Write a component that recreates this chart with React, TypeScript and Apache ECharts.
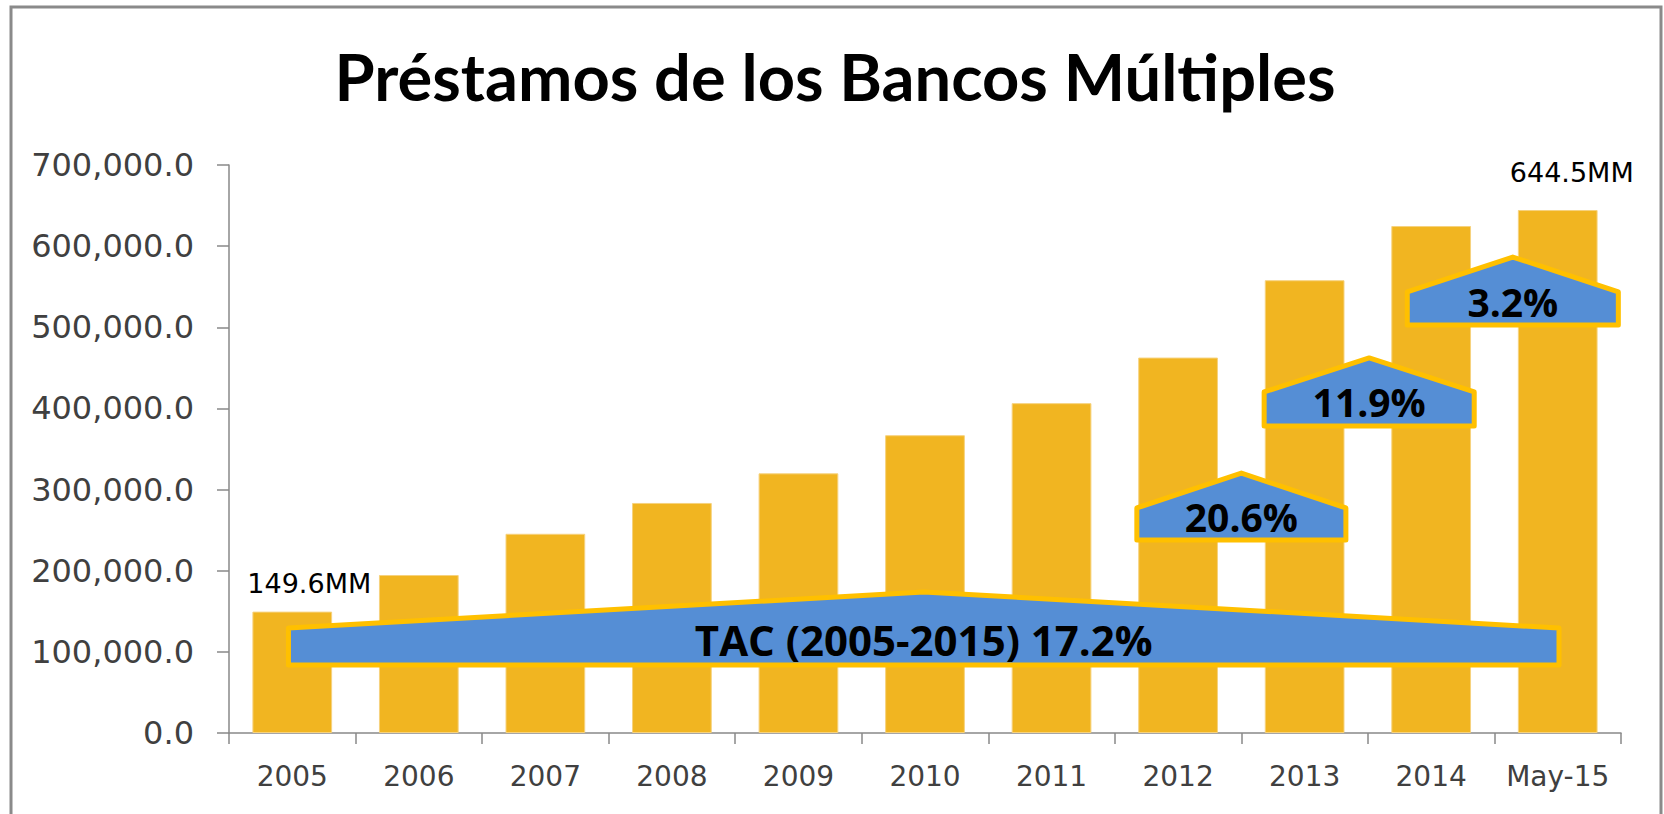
import React, { useEffect, useRef } from "react";
import * as echarts from "echarts";

const titleText = "Préstamos de los Bancos Múltiples";
const categories = ["2005", "2006", "2007", "2008", "2009", "2010", "2011", "2012", "2013", "2014", "May-15"];
const loans = [149600, 194700, 245500, 283500, 320000, 367000, 406500, 462700, 558000, 624800, 644500];
const endLabels = ["149.6MM", "", "", "", "", "", "", "", "", "", "644.5MM"];

// growth annotations (pentagon "house" shapes)
const arrowLabels = ["TAC (2005-2015) 17.2%", "20.6%", "11.9%", "3.2%"];
const arrowCenters = [4.99, 7.5, 8.51, 9.645]; // in category units from first category centre
const arrowHalfWidths = [5.02, 0.826, 0.83, 0.834]; // in category bands
const arrowBottoms = [83800, 237900, 378400, 502800];
const arrowShoulders = [129400, 277300, 420300, 543500];
const arrowApexes = [173800, 320400, 462200, 586600];
const arrowFontSizes = [42, 39, 39, 39];

export default function App() {
  const ref = useRef<HTMLDivElement>(null);
  useEffect(() => {
    if (!ref.current) return;
    const chart = echarts.init(ref.current, null, { renderer: "svg" });
    const axisColor = "#898989";
    const labelColor = "#404040";
    chart.setOption({
      animation: false,
      backgroundColor: "#ffffff",
      graphic: [
        {
          type: "rect",
          shape: { x: 11, y: 7, width: 1650, height: 830 },
          style: { fill: "none", stroke: "#8a8a8a", lineWidth: 3 },
          z: 0,
        },
        {
          type: "text",
          x: 835,
          y: 76,
          style: {
            text: titleText,
            fill: "#000000",
            fontFamily: "Lato",
            fontWeight: "bold",
            fontSize: 65,
            align: "center",
            verticalAlign: "middle",
          },
        },
      ],
      grid: { left: 229, right: 43, top: 165, bottom: 81, containLabel: false },
      xAxis: {
        type: "category",
        data: categories,
        axisLine: { lineStyle: { color: axisColor, width: 1.5 } },
        axisTick: { show: true, length: 11, lineStyle: { color: axisColor, width: 1.5 } },
        axisLabel: {
          interval: 0,
          color: labelColor,
          fontFamily: "DejaVu Sans",
          fontSize: 28,
          margin: 29,
        },
      },
      yAxis: {
        type: "value",
        min: 0,
        max: 700000,
        interval: 100000,
        splitLine: { show: false },
        axisLine: { show: true, lineStyle: { color: axisColor, width: 1.5 } },
        axisTick: { show: true, length: 12, lineStyle: { color: axisColor, width: 1.5 } },
        axisLabel: {
          color: labelColor,
          fontFamily: "DejaVu Sans",
          fontSize: 32,
          margin: 35,
          formatter: (v: number) =>
            v.toLocaleString("en-US", { minimumFractionDigits: 1, maximumFractionDigits: 1 }),
        },
      },
      series: [
        {
          type: "bar",
          data: loans.map((v, i) => ({
            value: v,
            label: {
              show: endLabels[i] !== "",
              position: "top",
              offset: i === 0 ? [17, -10] : [14, -19],
              formatter: endLabels[i],
              color: "#000000",
              fontFamily: "DejaVu Sans",
              fontSize: 27,
            },
          })),
          barWidth: "63%",
          itemStyle: { color: "#F1B521", borderColor: "#F6D27E", borderWidth: 1 },
          z: 2,
        },
        {
          type: "custom",
          z: 5,
          clip: false,
          silent: true,
          data: arrowLabels.map((_, i) => [i, arrowBottoms[i]]),
          renderItem: (params: any, api: any) => {
            const i = params.dataIndex;
            const band = api.size([1, 0])[0];
            const x0 = api.coord([0, 0])[0];
            const cx = x0 + arrowCenters[i] * band;
            const hw = arrowHalfWidths[i] * band;
            const yb = api.coord([0, arrowBottoms[i]])[1];
            const ys = api.coord([0, arrowShoulders[i]])[1];
            const ya = api.coord([0, arrowApexes[i]])[1];
            return {
              type: "group",
              children: [
                {
                  type: "polygon",
                  shape: {
                    points: [
                      [cx - hw, yb],
                      [cx - hw, ys],
                      [cx, ya],
                      [cx + hw, ys],
                      [cx + hw, yb],
                    ],
                  },
                  style: { fill: "#558ED5", stroke: "#FFC000", lineWidth: 5, lineJoin: "round" },
                },
                {
                  type: "text",
                  x: cx,
                  y: (ys + yb) / 2 - 7,
                  style: {
                    text: arrowLabels[i],
                    fill: "#000000",
                    fontFamily: "Open Sans",
                    fontWeight: "bold",
                    fontSize: arrowFontSizes[i],
                    align: "center",
                    verticalAlign: "middle",
                  },
                },
              ],
            };
          },
        },
      ],
    });
    return () => chart.dispose();
  }, []);
  return (
    <div
      ref={ref}
      style={{ position: "absolute", left: 0, top: 0, width: 1664, height: 814 }}
    />
  );
}
